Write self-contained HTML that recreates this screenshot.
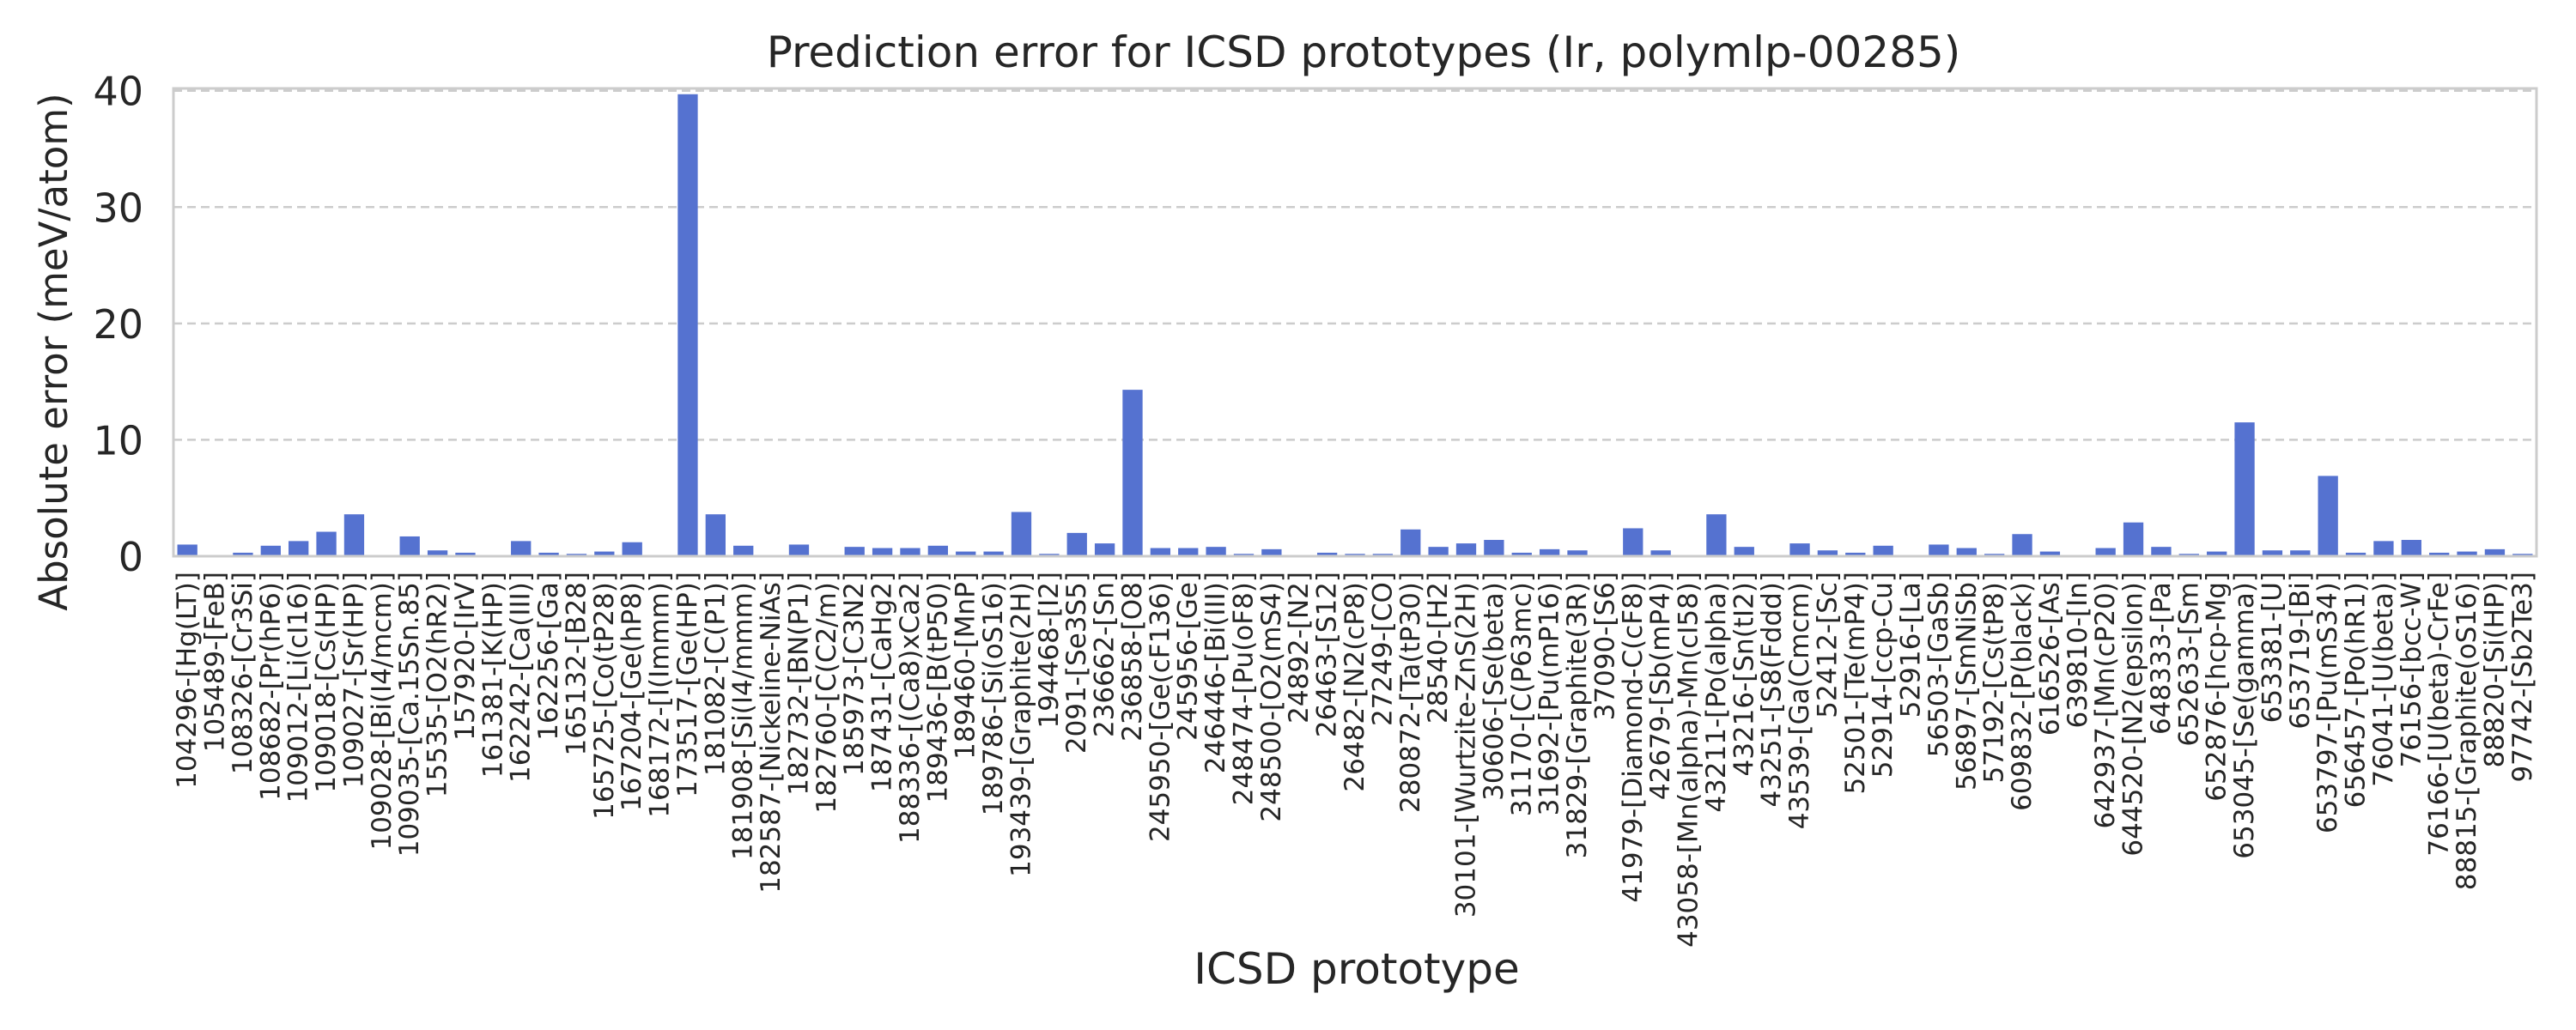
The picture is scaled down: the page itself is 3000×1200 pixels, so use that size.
<!DOCTYPE html>
<html><head><meta charset="utf-8">
<style>
html,body{margin:0;padding:0;background:#fff;}
svg{display:block;font-family:"DejaVu Sans","Liberation Sans",sans-serif;}
</style></head>
<body>
<svg id="chart" width="3000" height="1200" viewBox="0 0 3000 1200" xmlns="http://www.w3.org/2000/svg">
<rect width="3000" height="1200" fill="#fff"/>
<text x="1588" y="78" font-size="50" fill="#262626" text-anchor="middle">Prediction error for ICSD prototypes (Ir, polymlp-00285)</text>
<g id="grid"></g>
<g id="bars"></g>
<rect x="202" y="103" width="2752" height="545" fill="none" stroke="#cccccc" stroke-width="3"/>
<g id="yticks"></g>
<g id="xticks"></g>
<text transform="translate(78,410) rotate(-90)" font-size="45" fill="#262626" text-anchor="middle">Absolute error (meV/atom)</text>
<text x="1580" y="1146" font-size="50" fill="#262626" text-anchor="middle">ICSD prototype</text>
</svg>
<script>
const categories = ["104296-[Hg(LT)]","105489-[FeB]","108326-[Cr3Si]","108682-[Pr(hP6)]","109012-[Li(cI16)]","109018-[Cs(HP)]","109027-[Sr(HP)]","109028-[Bi(I4/mcm)]","109035-[Ca.15Sn.85]","15535-[O2(hR2)]","157920-[IrV]","161381-[K(HP)]","162242-[Ca(III)]","162256-[Ga]","165132-[B28]","165725-[Co(tP28)]","167204-[Ge(hP8)]","168172-[I(Immm)]","173517-[Ge(HP)]","181082-[C(P1)]","181908-[Si(I4/mmm)]","182587-[Nickeline-NiAs]","182732-[BN(P1)]","182760-[C(C2/m)]","185973-[C3N2]","187431-[CaHg2]","188336-[(Ca8)xCa2]","189436-[B(tP50)]","189460-[MnP]","189786-[Si(oS16)]","193439-[Graphite(2H)]","194468-[I2]","2091-[Se3S5]","236662-[Sn]","236858-[O8]","245950-[Ge(cF136)]","245956-[Ge]","246446-[Bi(III)]","248474-[Pu(oF8)]","248500-[O2(mS4)]","24892-[N2]","26463-[S12]","26482-[N2(cP8)]","27249-[CO]","280872-[Ta(tP30)]","28540-[H2]","30101-[Wurtzite-ZnS(2H)]","30606-[Se(beta)]","31170-[C(P63mc)]","31692-[Pu(mP16)]","31829-[Graphite(3R)]","37090-[S6]","41979-[Diamond-C(cF8)]","42679-[Sb(mP4)]","43058-[Mn(alpha)-Mn(cI58)]","43211-[Po(alpha)]","43216-[Sn(tI2)]","43251-[S8(Fddd)]","43539-[Ga(Cmcm)]","52412-[Sc]","52501-[Te(mP4)]","52914-[ccp-Cu]","52916-[La]","56503-[GaSb]","56897-[SmNiSb]","57192-[Cs(tP8)]","609832-[P(black)]","616526-[As]","639810-[In]","642937-[Mn(cP20)]","644520-[N2(epsilon)]","648333-[Pa]","652633-[Sm]","652876-[hcp-Mg]","653045-[Se(gamma)]","653381-[U]","653719-[Bi]","653797-[Pu(mS34)]","656457-[Po(hR1)]","76041-[U(beta)]","76156-[bcc-W]","76166-[U(beta)-CrFe]","88815-[Graphite(oS16)]","88820-[Si(HP)]","97742-[Sb2Te3]"];
const values = [1.0,0.1,0.3,0.9,1.3,2.1,3.6,0.1,1.7,0.5,0.3,0.1,1.3,0.3,0.2,0.4,1.2,0.1,39.7,3.6,0.9,0.1,1.0,0.1,0.8,0.7,0.7,0.9,0.4,0.4,3.8,0.2,2.0,1.1,14.3,0.7,0.7,0.8,0.2,0.6,0.1,0.3,0.2,0.2,2.3,0.8,1.1,1.4,0.3,0.6,0.5,0.1,2.4,0.5,0.1,3.6,0.8,0.1,1.1,0.5,0.3,0.9,0.1,1.0,0.7,0.2,1.9,0.4,0.1,0.7,2.9,0.8,0.2,0.4,11.5,0.5,0.5,6.9,0.3,1.3,1.4,0.3,0.4,0.6,0.2];
const yTicks = [0,10,20,30,40];
const yTickLabels = ["0","10","20","30","40"];

const NS = "http://www.w3.org/2000/svg";
const L = 202, R = 2954, T = 103, B = 648;
const yMax = 40.2;
function yScale(v){ return B - (v / yMax) * (B - T); }
const band = (R - L) / categories.length;
function xScale(i){ return L + band * (i + 0.5); }

const grid = document.getElementById('grid');
const yt = document.getElementById('yticks');
yTicks.forEach((t, k) => {
  const y = yScale(t);
  if (t > 0) {
    const ln = document.createElementNS(NS, 'line');
    ln.setAttribute('x1', L); ln.setAttribute('x2', R);
    ln.setAttribute('y1', y); ln.setAttribute('y2', y);
    ln.setAttribute('stroke', '#cccccc'); ln.setAttribute('stroke-width', '2.5');
    ln.setAttribute('stroke-dasharray', '10,6');
    
    
    grid.appendChild(ln);
  }
  const tx = document.createElementNS(NS, 'text');
  tx.setAttribute('x', 167); tx.setAttribute('y', y + 17);
  tx.setAttribute('font-size', '46'); tx.setAttribute('fill', '#262626');
  tx.setAttribute('text-anchor', 'end');
  tx.textContent = yTickLabels[k];
  
  
  yt.appendChild(tx);
});

const bars = document.getElementById('bars');
const xt = document.getElementById('xticks');
const bw = band * 0.72;
categories.forEach((c, i) => {
  const x = xScale(i);
  const y = yScale(values[i]);
  const r = document.createElementNS(NS, 'rect');
  r.setAttribute('x', x - bw / 2); r.setAttribute('width', bw);
  r.setAttribute('y', y); r.setAttribute('height', B - y);
  r.setAttribute('fill', '#5572d0');
  
  
  bars.appendChild(r);
  const tx = document.createElementNS(NS, 'text');
  tx.setAttribute('transform', 'translate(' + (x + 10) + ',666) rotate(-90)');
  tx.setAttribute('font-size', '31'); tx.setAttribute('fill', '#262626');
  tx.setAttribute('text-anchor', 'end');
  tx.textContent = c;
  
  
  xt.appendChild(tx);
});
</script>
</body></html>
